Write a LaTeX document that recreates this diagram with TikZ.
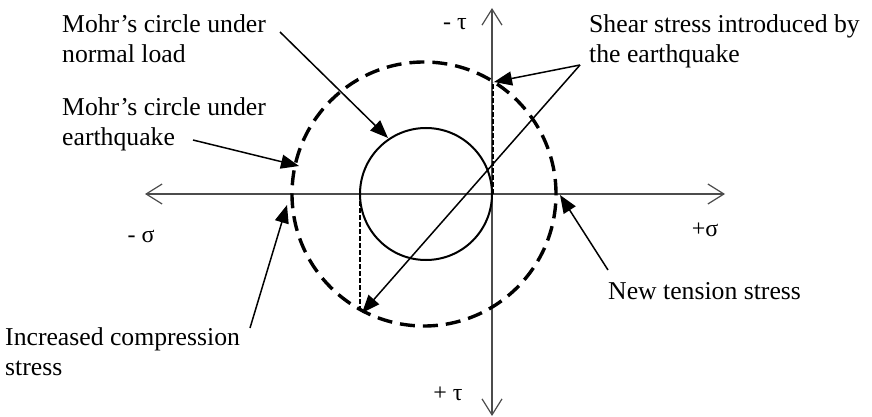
\documentclass[tikz,border=0pt]{standalone}
\usepackage{fontspec}
\setmainfont{Liberation Serif}
\usetikzlibrary{arrows.meta}
\begin{document}
\begin{tikzpicture}[x=1pt,y=-1pt,
  axis/.style={draw=black!70, line width=1.2pt},
  axtip/.style={-{Straight Barb[length=16pt,width=20pt,line width=1.2pt]}},
  pointer/.style={draw=black, line width=1.5pt, -{Triangle[length=18pt,width=14pt]}},
  lbl/.style={inner sep=0pt, align=left, font=\fontsize{25.7}{30.5}\selectfont},
  glbl/.style={inner sep=0pt, font=\fontsize{24}{27}\selectfont},
  dashv/.style={draw=black, line width=1.6pt, dash pattern=on 5pt off 2pt}
]
\useasboundingbox (0,0) rectangle (872,417);
% axes
\coordinate (xl) at (145,194);
\coordinate (xr) at (725,194);
\coordinate (yt) at (492,8);
\coordinate (yb) at (492,416);
\coordinate (o) at (492,194);
\draw[axis, axtip] (o) -- (xl);
\draw[axis, axtip] (o) -- (xr);
\draw[axis, axtip] (o) -- (yt);
\draw[axis, axtip] (o) -- (yb);
% circles
\node[circle, draw, line width=2pt, minimum size=132pt, inner sep=0pt] (small) at (426,194) {};
\node[circle, draw, line width=3.4pt, dash pattern=on 15pt off 8pt, minimum size=264pt, inner sep=0pt] (big) at (424,194) {};
% dashed verticals
\coordinate (vtA) at (493,194);
\coordinate (vtB) at (493,82);
\coordinate (vbA) at (360,194);
\coordinate (vbB) at (360,312);
\draw[dashv] (vtA) -- (vtB);
\draw[dashv] (vbA) -- (vbB);
% labels
\node[lbl, anchor=north west] (tNormal) at (62,14) {Mohr’s circle under\\normal load};
\node[lbl, anchor=north west] (tQuake) at (62,97) {Mohr’s circle under\\earthquake};
\node[lbl, anchor=north west] (tComp) at (5,327) {Increased compression\\stress};
\node[lbl, anchor=base west] (tTens) at (608,299) {New tension stress};
\node[lbl, anchor=north west] (tShear) at (589,14) {Shear stress introduced by\\the earthquake};
\node[glbl] (mSig) at (141,236) {- σ};
\node[glbl] (pSig) at (705,230) {+σ};
\node[glbl] (mTau) at (455,24) {- τ};
\node[glbl] (pTau) at (448,394) {+ τ};
% pointer arrows
\coordinate (aNs) at (280,32);
\coordinate (aNe) at (388,138);
\coordinate (aQs) at (193,140);
\coordinate (aQe) at (299,166);
\coordinate (aCs) at (250,328);
\coordinate (aCe) at (287,205);
\coordinate (aTs) at (608,270);
\coordinate (aTe) at (560,195);
\coordinate (aSs) at (580,65);
\coordinate (aSe1) at (494,82);
\coordinate (aSe2) at (362,313);
\draw[pointer] (aNs) -- (aNe);
\draw[pointer] (aQs) -- (aQe);
\draw[pointer] (aCs) -- (aCe);
\draw[pointer] (aTs) -- (aTe);
\draw[pointer] (aSs) -- (aSe1);
\draw[pointer] (aSs) -- (aSe2);
\end{tikzpicture}
\end{document}
